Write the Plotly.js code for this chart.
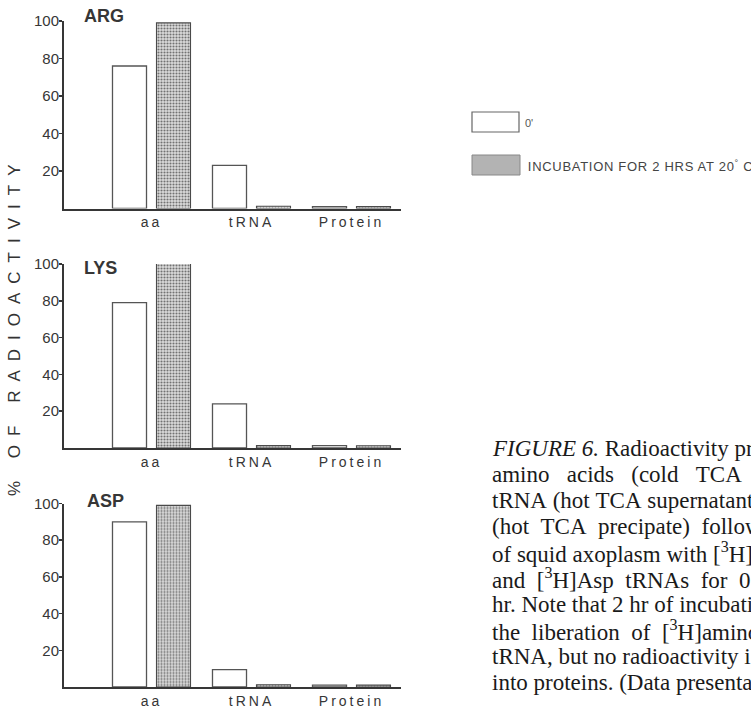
<!DOCTYPE html>
<html>
<head>
<meta charset="utf-8">
<script src="https://cdn.plot.ly/plotly-3.0.1.min.js"></script>
<style>
  html, body { margin: 0; padding: 0; background: #fff; }
  #chart { width: 751px; height: 707px; }
  .xtick text, .x2tick text, .x3tick text { letter-spacing: 3px; }
  .annotation[data-index="0"] text { letter-spacing: 9px; }
  .annotation[data-index="5"] text { letter-spacing: 0.7px; }
</style>
</head>
<body>
<div id="chart"></div>
<script>
// Fractions of radioactivity recovered in each fraction
const categories = ['aa', 'tRNA', 'Protein'];
const panelNames = ['ARG', 'LYS', 'ASP'];
const seriesNames = ["0'", 'INCUBATION FOR 2 HRS AT 20<sup>°</sup> C'];

const argZero  = [76, 23, 1];
const argIncub = [99, 1.2, 1];
const lysZero  = [79, 24, 1.3];
const lysIncub = [101, 1.3, 1.2];
const aspZero  = [90, 9.5, 1];
const aspIncub = [99, 1.2, 1];

const yTicks = [20, 40, 60, 80, 100];
const yTitle = '% OF RADIOACTIVITY';

const caption = [
  '<i>FIGURE 6.</i> Radioactivity present in',
  'amino acids (cold TCA supernatant),',
  'tRNA (hot TCA supernatant), and protein',
  '(hot TCA precipate) following incubation',
  'of squid axoplasm with [<sup>3</sup>H]Arg, [<sup>3</sup>H]Lys,',
  'and [<sup>3</sup>H]Asp tRNAs for 0 (open bars) or 2',
  'hr. Note that 2 hr of incubation result in',
  'the liberation of [<sup>3</sup>H]amino acids from',
  'tRNA, but no radioactivity is incorporated',
  'into proteins. (Data presentation adapted'
];

const W = 751, H = 707;
const px = x => x / W;
const py = y => (H - y) / H;

// justified setting: word gaps per caption line, in non-breaking spaces
const wordGap = [1, 3, 1, 2, 1, 2, 1, 2, 1, 1];
const justify = (s, k) => s.split(' ').join('\u00a0'.repeat(k));

const panels = [
  { zero: argZero, incub: argIncub, dom: [py(208.5), py(21)] },
  { zero: lysZero, incub: lysIncub, dom: [py(448), py(264)] },
  { zero: aspZero, incub: aspIncub, dom: [py(687), py(503.5)] }
];

const ink = '#363636';
const traces = [];
const layout = {
  width: W, height: H,
  margin: { l: 0, r: 0, t: 0, b: 0 },
  paper_bgcolor: '#fff', plot_bgcolor: 'rgba(0,0,0,0)',
  showlegend: false,
  barmode: 'group',
  bargap: 0.12,
  bargroupgap: 0.227,
  font: { family: 'Liberation Sans, Arial, sans-serif', color: ink },
  shapes: [],
  annotations: []
};

panels.forEach((p, i) => {
  const n = i === 0 ? '' : String(i + 1);
  traces.push({
    type: 'bar', x: categories, y: p.zero, name: seriesNames[0],
    xaxis: 'x' + n, yaxis: 'y' + n, cliponaxis: false,
    marker: { color: '#ffffff', line: { color: '#555', width: 1.3 } },
    hoverinfo: 'x+y'
  });
  traces.push({
    type: 'bar', x: categories, y: p.incub, name: seriesNames[1],
    xaxis: 'x' + n, yaxis: 'y' + n, cliponaxis: false,
    marker: {
      color: '#b8b8b8',
      line: { color: '#4a4a4a', width: 1.1 },
      pattern: { shape: '.', size: 3, solidity: 0.38, fgcolor: '#727272', bgcolor: '#dcdcdc', fillmode: 'replace' }
    },
    hoverinfo: 'x+y'
  });
  layout['xaxis' + n] = {
    domain: [px(64), px(401)],
    anchor: 'y' + n,
    type: 'category',
    range: [-0.875, 2.495],
    showline: true, linecolor: ink, linewidth: 2,
    showgrid: false, zeroline: false,
    ticks: '', ticklabelstandoff: 0,
    tickfont: { size: 14, color: ink },
    fixedrange: true
  };
  layout['yaxis' + n] = {
    domain: p.dom,
    anchor: 'x' + n,
    range: [0, 100],
    tickvals: yTicks,
    showline: true, linecolor: ink, linewidth: 2,
    showgrid: false, zeroline: false,
    ticks: 'outside', ticklen: 3, tickwidth: 1.5, tickcolor: ink,
    ticklabelstandoff: -3,
    tickfont: { size: 15, color: ink },
    fixedrange: true
  };
});

// 0: shared axis title
layout.annotations.push({
  xref: 'paper', yref: 'paper', x: px(14), y: py(326),
  text: yTitle, textangle: -90, showarrow: false,
  xanchor: 'center', yanchor: 'middle',
  font: { size: 17, color: '#333' }
});

// 1-3: panel titles
[[82, 16.5], [82, 267.5], [85, 501]].forEach((pos, i) => {
  layout.annotations.push({
    xref: 'paper', yref: 'paper', x: px(pos[0]), y: py(pos[1]),
    text: '<b>' + panelNames[i] + '</b>', showarrow: false,
    xanchor: 'left', yanchor: 'middle',
    font: { size: 18, color: ink }
  });
});

// Key: swatches and labels (4-5)
layout.shapes.push({
  type: 'rect', xref: 'paper', yref: 'paper',
  x0: px(472), x1: px(519), y0: py(132), y1: py(112),
  fillcolor: '#ffffff', line: { color: '#666', width: 1.2 }
});
layout.shapes.push({
  type: 'rect', xref: 'paper', yref: 'paper',
  x0: px(472), x1: px(520), y0: py(175), y1: py(155),
  fillcolor: '#b3b3b3', line: { color: '#888', width: 1 }
});
layout.annotations.push({
  xref: 'paper', yref: 'paper', x: px(523), y: py(123),
  text: seriesNames[0], showarrow: false, xanchor: 'left', yanchor: 'middle',
  font: { size: 11, color: '#555' }
});
// letter spacing widens the text about its centre, so the anchor is moved right by half of it
layout.annotations.push({
  xref: 'paper', yref: 'paper', x: px(526 + 28 * 0.7 / 2), y: py(166),
  text: seriesNames[1], showarrow: false, xanchor: 'left', yanchor: 'middle',
  font: { size: 13, color: '#444' }
});

// 6+: caption lines
caption.forEach((line, i) => {
  layout.annotations.push({
    xref: 'paper', yref: 'paper', x: px(490), y: py(448 + i * 26),
    text: justify(line, wordGap[i]), showarrow: false, xanchor: 'left', yanchor: 'middle',
    font: { family: 'Liberation Serif, Times New Roman, serif', size: 23, color: '#1a1a1a' }
  });
});

Plotly.newPlot('chart', traces, layout, { displayModeBar: false, staticPlot: true });
</script>
</body>
</html>
